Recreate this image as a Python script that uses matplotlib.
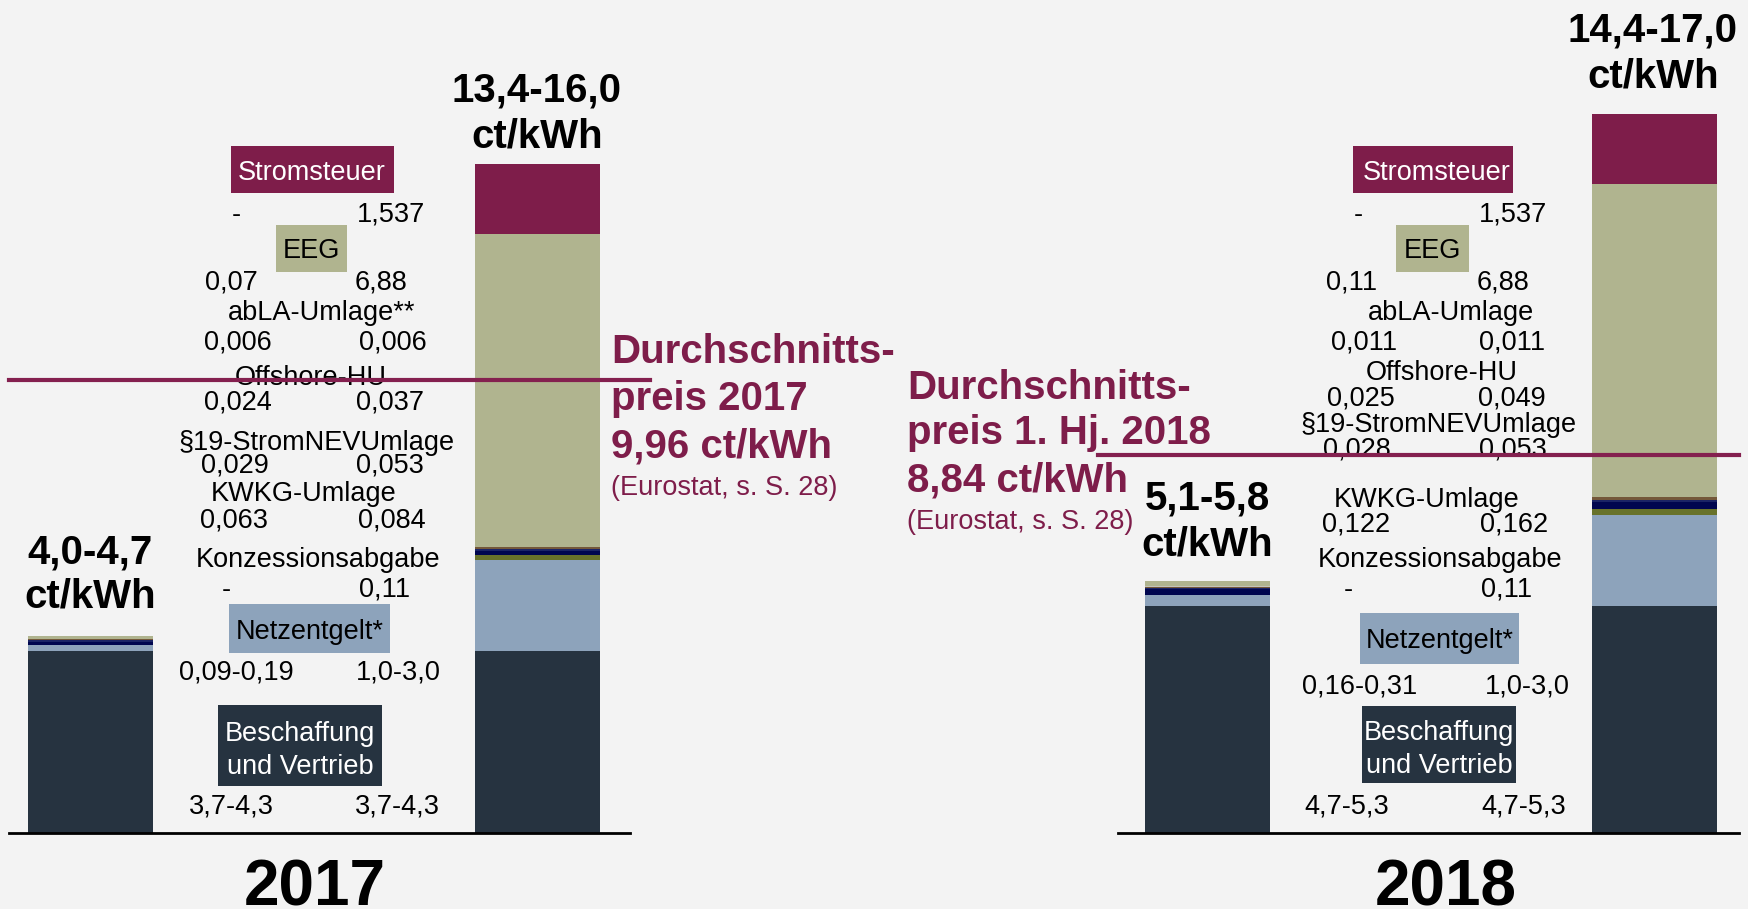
import matplotlib
matplotlib.use("Agg")
import matplotlib.pyplot as plt
from matplotlib.patches import Rectangle

plt.rcParams['font.family'] = ['Liberation Sans', 'DejaVu Sans']

# components, bottom to top of each stacked bar
components = ["Beschaffung und Vertrieb", "Netzentgelt", "Konzessionsabgabe",
              "KWKG-Umlage", "§19-StromNEV-Umlage", "Offshore-HU",
              "abLA-Umlage", "EEG", "Stromsteuer"]
comp_colors = ["#263340", "#8DA3BB", "#68722A", "#00064F", "#1B2466",
               "#74583A", "#C4C4BA", "#B0B48F", "#7E1D4A"]

# values in ct/kWh (midpoints of ranges)
vals_2017_low = [4.0, 0.14, 0.0, 0.063, 0.029, 0.024, 0.006, 0.07, 0.0]
vals_2017_high = [4.0, 2.0, 0.11, 0.084, 0.053, 0.037, 0.006, 6.88, 1.537]
vals_2018_low = [5.0, 0.235, 0.0, 0.122, 0.028, 0.025, 0.011, 0.11, 0.0]
vals_2018_high = [5.0, 2.0, 0.11, 0.162, 0.053, 0.049, 0.011, 6.88, 1.537]

# labels
names_2017 = ["Beschaffung\nund Vertrieb", "Netzentgelt*", "Konzessionsabgabe",
              "KWKG-Umlage", "§19-StromNEVUmlage", "Offshore-HU",
              "abLA-Umlage**", "EEG", "Stromsteuer"]
names_2018 = ["Beschaffung\nund Vertrieb", "Netzentgelt*", "Konzessionsabgabe",
              "KWKG-Umlage", "§19-StromNEVUmlage", "Offshore-HU",
              "abLA-Umlage", "EEG", "Stromsteuer"]
lbl_2017_low = ["3,7-4,3", "0,09-0,19", "-", "0,063", "0,029", "0,024", "0,006", "0,07", "-"]
lbl_2017_high = ["3,7-4,3", "1,0-3,0", "0,11", "0,084", "0,053", "0,037", "0,006", "6,88", "1,537"]
lbl_2018_low = ["4,7-5,3", "0,16-0,31", "-", "0,122", "0,028", "0,025", "0,011", "0,11", "-"]
lbl_2018_high = ["4,7-5,3", "1,0-3,0", "0,11", "0,162", "0,053", "0,049", "0,011", "6,88", "1,537"]

totals_2017 = ["4,0-4,7", "13,4-16,0"]
totals_2018 = ["5,1-5,8", "14,4-17,0"]
years = ["2017", "2018"]
avg_labels = [["Durchschnitts-", "preis 2017", "9,96 ct/kWh", "(Eurostat, s. S. 28)"],
              ["Durchschnitts-", "preis 1. Hj. 2018", "8,84 ct/kWh", "(Eurostat, s. S. 28)"]]
# level of the average lines as drawn in the picture (ct/kWh)
avg_levels = [9.96, 8.3]

W, H = 1748, 909
BASE = 833      # pixel row of the zero line
PPC = 45.5      # pixels per ct
BG = "#F3F3F3"
RED = "#7E1D4A"

fig = plt.figure(figsize=(W / 100, H / 100), dpi=100, facecolor=BG)

# overlay axes in pixel coordinates for text and label boxes
ov = fig.add_axes([0, 0, 1, 1], zorder=1)
ov.set_xlim(0, W)
ov.set_ylim(H, 0)
ov.axis('off')

# bar axes in ct/kWh
ax = fig.add_axes([0, 0, 1, 1], zorder=2)
ax.set_xlim(0, W)
ax.set_ylim(-(H - BASE) / PPC, BASE / PPC)
ax.axis('off')
ax.patch.set_visible(False)


def stack(x, vals):
    bottom = 0
    for v, c in zip(vals, comp_colors):
        if v > 0:
            ax.bar(x, v, width=125, bottom=bottom, color=c, linewidth=0)
        bottom += v


stack(90, vals_2017_low)
stack(537, vals_2017_high)
stack(1207, vals_2018_low)
stack(1654, vals_2018_high)

# baselines
ax.plot([9, 630], [0, 0], color="black", lw=2)
ax.plot([1118, 1739], [0, 0], color="black", lw=2)

# average lines
ax.plot([9, 650], [avg_levels[0]] * 2, color="#84204F", lw=3)
ax.plot([1098, 1739], [avg_levels[1]] * 2, color="#84204F", lw=3)

FS = 19.5


def t(x, yc, s, **kw):
    # yc = visual centre of the capitals
    kw.setdefault('fontsize', FS)
    kw.setdefault('ha', 'center')
    return ov.text(x, yc + 0.716 * kw['fontsize'] * 100 / 72 / 2, s, va='baseline', **kw)


def box(x0, x1, y0, y1, color):
    r = Rectangle((x0, y0), x1 - x0, y1 - y0, facecolor=color, edgecolor='none')
    ov.add_patch(r)
    return r


# per panel layout: name centre, value row y, low x, high x (pixels)
lay_2017 = [
    ((300, 731), 804, 231, 397),
    ((310, 629), 670, 236, 398),
    ((318, 557), 587, 226, 385),
    ((304, 491), 518, 234, 392),
    ((317, 440), 463, 235, 390),
    ((311, 375), 400, 238, 390),
    ((322, 310), 340, 238, 393),
    ((311, 248), 280, 231, 381),
    ((312, 170), 212, 236, 391),
]
lay_2018 = [
    ((1439, 730), 804, 1347, 1524),
    ((1440, 638), 684, 1360, 1527),
    ((1440, 557), 587, 1348, 1507),
    ((1427, 497), 522, 1356, 1514),
    ((1439, 422), 447, 1357, 1513),
    ((1442, 370), 396, 1361, 1512),
    ((1451, 310), 340, 1364, 1512),
    ((1432, 248), 280, 1352, 1503),
    ((1437, 170), 212, 1358, 1513),
]
boxes_2017 = {0: (218, 382, 705, 786), 1: (229, 390, 604, 653),
              7: (276, 347, 225, 272), 8: (231, 394, 146, 193)}
boxes_2018 = {0: (1362, 1516, 706, 783), 1: (1360, 1519, 613, 664),
              7: (1396, 1469, 225, 272), 8: (1353, 1513, 146, 193)}

for names, lows, highs, lay, boxes in [
        (names_2017, lbl_2017_low, lbl_2017_high, lay_2017, boxes_2017),
        (names_2018, lbl_2018_low, lbl_2018_high, lay_2018, boxes_2018)]:
    for i in range(len(names)):
        (nx, ny), vy, lx, hx = lay[i]
        color = 'black'
        clip = None
        if i in boxes:
            clip = box(*boxes[i], comp_colors[i])
            if i in (0, 8):
                color = 'white'
        if i == 0:
            parts = names[i].split("\n")
            t(nx, ny, parts[0], color=color)
            t(nx, ny + 33, parts[1], color=color)
        else:
            txt = t(nx, ny, names[i], color=color)
            if clip is not None:
                txt.set_clip_path(clip)
        t(lx, vy, lows[i])
        t(hx, vy, highs[i])

# totals above bars
BFS = 29
for x, b1, s in [(90, 563, totals_2017[0]), (537, 102, totals_2017[1]),
                 (1207, 510, totals_2018[0]), (1653, 42, totals_2018[1])]:
    ov.text(x, b1, s, fontsize=BFS, fontweight='bold', ha='center', va='baseline')
    ov.text(x, b1 + 45, "ct/kWh", fontsize=BFS, fontweight='bold', ha='center', va='baseline')

# average price notes
for x0, bl, lines in [(611, [363, 410, 458, 495], avg_labels[0]),
                      (907, [399, 444, 491, 529], avg_labels[1])]:
    for j, (b, s) in enumerate(zip(bl, lines)):
        if j < 3:
            ov.text(x0, b, s, fontsize=BFS, fontweight='bold', color=RED, ha='left', va='baseline')
        else:
            ov.text(x0, b, s, fontsize=19.5, color=RED, ha='left', va='baseline')

# years (cut by the bottom edge, as in the original slide)
ov.text(315, 905, years[0], fontsize=46, fontweight='bold', ha='center', va='baseline')
ov.text(1446, 905, years[1], fontsize=46, fontweight='bold', ha='center', va='baseline')

fig.savefig("out.png", dpi=100, facecolor=BG)
